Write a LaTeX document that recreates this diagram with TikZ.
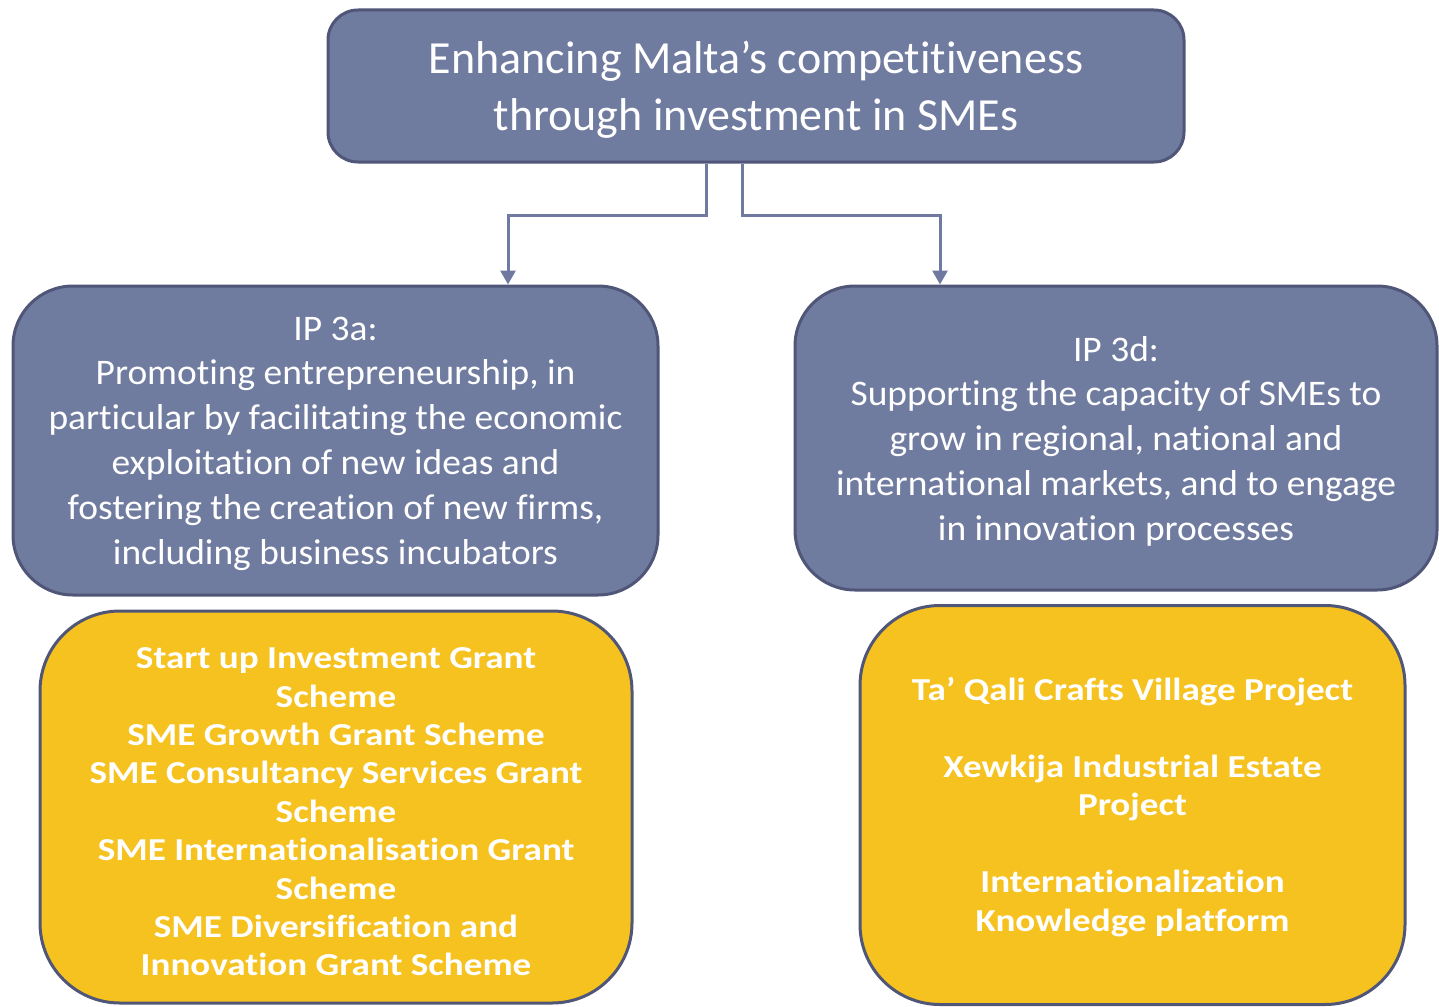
\documentclass[tikz,border=0pt]{standalone}
\usepackage{fontspec}
\setmainfont{Carlito}[Ligatures=NoCommon]
\newfontfamily\yellowfont{Carlito}[Ligatures=NoCommon, FakeStretch=1.16]
\newfontfamily\bluefont{Carlito}[Ligatures=NoCommon, FakeStretch=1.04]
\usetikzlibrary{arrows.meta}
\definecolor{boxblue}{HTML}{707BA0}
\definecolor{edgeblue}{HTML}{4F5677}
\definecolor{lineblue}{HTML}{7079A0}
\definecolor{boxyellow}{HTML}{F6C220}
\tikzset{
  bluebox/.style={draw=edgeblue, line width=3pt, fill=boxblue, inner sep=0pt},
  yellowbox/.style={draw=edgeblue, line width=3pt, fill=boxyellow, inner sep=0pt, rounded corners=80pt},
  bluetext/.style={text=white, align=center, inner sep=0pt, font=\bluefont\fontsize{36}{44.8}\selectfont},
  yellowtext/.style={text=white, align=center, inner sep=0pt, font=\yellowfont\bfseries\fontsize{32}{38.4}\selectfont},
  conn/.style={draw=lineblue, line width=3pt, -{Triangle[length=14pt,width=15pt]}}
}
\begin{document}
\begin{tikzpicture}[x=1pt,y=-1pt]
\useasboundingbox (0,0) rectangle (1439,1006);
\node[bluebox, rounded corners=30pt, minimum width=856pt, minimum height=152pt] (top) at (756,86) {};
\node[text=white, align=center, inner sep=0pt, font=\fontsize{46}{57}\selectfont] (toptext) at ([yshift=-4pt]top.center)
  {Enhancing Malta’s competitiveness\\through investment in SMEs};
\node[bluebox, rounded corners=60pt, minimum width=645pt, minimum height=309pt] (ipa) at (335.5,440.5) {};
\node[bluetext] (ipatext) at ([yshift=-3pt]ipa.center)
  {IP 3a:\\Promoting entrepreneurship, in\\particular by facilitating the economic\\exploitation of new ideas and\\fostering the creation of new firms,\\including business incubators};
\node[bluebox, rounded corners=60pt, minimum width=642pt, minimum height=304pt] (ipd) at (1116,438) {};
\node[bluetext] (ipdtext) at ([yshift=-3pt]ipd.center)
  {IP 3d:\\Supporting the capacity of SMEs to\\grow in regional, national and\\international markets, and to engage\\in innovation processes};
\node[yellowbox, minimum width=592pt, minimum height=392pt] (ya) at (336,807) {};
\node[yellowtext] (yatext) at ([yshift=-5pt]ya.center)
  {Start up Investment Grant\\Scheme\\SME Growth Grant Scheme\\SME Consultancy Services Grant\\Scheme\\SME Internationalisation Grant\\Scheme\\SME Diversification and\\Innovation Grant Scheme};
\node[yellowbox, minimum width=545pt, minimum height=399pt] (yd) at (1132.5,805) {};
\node[yellowtext] (ydtext) at ([yshift=-2pt]yd.center)
  {Ta’ Qali Crafts Village Project\\[38.4pt]Xewkija Industrial Estate\\Project\\[38.4pt]Internationalization\\Knowledge platform};
\coordinate (s1) at (706,0);
\coordinate (s2) at (742,0);
\coordinate (e1) at (508,0);
\coordinate (e2) at (940,0);
\coordinate (mid) at (0,215);
\draw[conn] (top.south -| s1) -- (mid -| s1) -- (mid -| e1) -- (ipa.north -| e1);
\draw[conn] (top.south -| s2) -- (mid -| s2) -- (mid -| e2) -- (ipd.north -| e2);
\end{tikzpicture}
\end{document}
